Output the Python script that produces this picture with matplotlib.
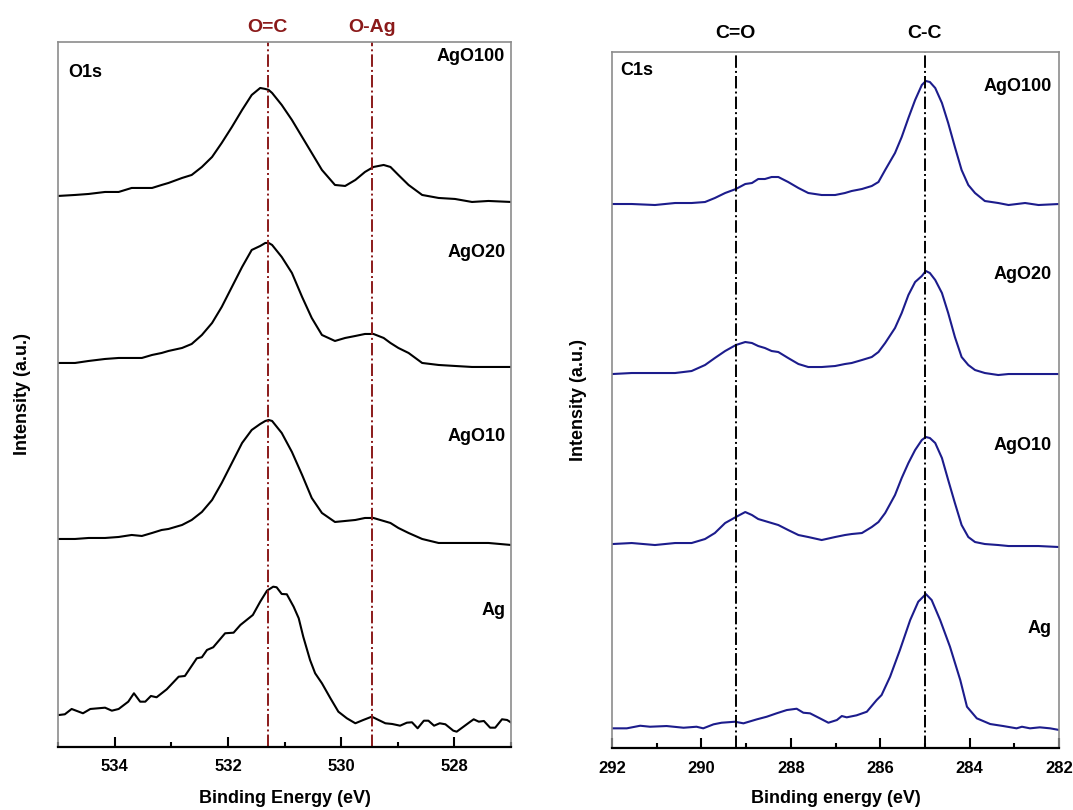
"""XPS O1s / C1s stacked spectra."""

import matplotlib
matplotlib.use("Agg")
import matplotlib.pyplot as plt
import matplotlib.transforms as mtransforms
from matplotlib.ticker import MultipleLocator

plt.rcParams["font.family"] = ["Liberation Sans", "DejaVu Sans"]
plt.rcParams["font.weight"] = "bold"

# ---- O1s panel (binding energy, eV) ----
o1s_energy = [535.0, 534.70, 534.46, 534.17, 533.93, 533.70, 533.52, 533.34, 533.17,
              533.05, 532.81, 532.64, 532.46, 532.28, 532.11, 531.93, 531.75, 531.58,
              531.43, 531.34, 531.28, 531.22, 531.05, 530.87, 530.69, 530.52, 530.34,
              530.11, 529.93, 529.75, 529.58, 529.43, 529.25, 529.13, 528.99, 528.81,
              528.57, 528.28, 527.99, 527.69, 527.40, 527.0]
o1s_ago100 = [554, 555, 556, 558, 558, 562, 562, 562, 565, 567, 572, 575, 583, 593, 607,
              623, 640, 655, 662, 661, 660, 657, 645, 630, 613, 597, 580, 565, 564, 570,
              578, 583, 585, 583, 575, 565, 555, 552, 551, 548, 549, 548]
o1s_ago20 = [387, 387, 389, 391, 392, 392, 392, 395, 397, 399, 402, 406, 415, 427, 443,
             463, 483, 500, 504, 507, 507, 505, 493, 477, 453, 432, 415, 409, 412, 414,
             416, 416, 412, 407, 402, 397, 387, 385, 384, 383, 383, 383]
o1s_ago10 = [211, 211, 212, 212, 213, 215, 214, 217, 220, 221, 225, 230, 238, 250, 267,
             287, 307, 320, 326, 329, 330, 329, 317, 298, 275, 252, 237, 228, 229, 230,
             232, 232, 229, 227, 222, 217, 211, 207, 207, 207, 207, 205]

o1s_ag_energy = [534.98, 534.88, 534.76, 534.56, 534.43, 534.17, 534.05, 533.93, 533.76,
                 533.66, 533.55, 533.46, 533.36, 533.26, 533.08, 532.87, 532.76, 532.55,
                 532.46, 532.37, 532.26, 532.05, 531.90, 531.78, 531.56, 531.43, 531.31,
                 531.20, 531.14, 531.05, 530.96, 530.84, 530.75, 530.67, 530.55, 530.46,
                 530.34, 530.19, 530.05, 529.90, 529.75, 529.61, 529.46, 529.34, 529.22,
                 529.10, 528.96, 528.84, 528.75, 528.65, 528.54, 528.46, 528.36, 528.26,
                 528.16, 528.02, 527.96, 527.84, 527.72, 527.66, 527.57, 527.48, 527.37,
                 527.28, 527.16, 527.07, 526.98]
o1s_ag = [35, 35.7, 41, 36.7, 41, 42.3, 39.3, 41, 48.3, 56.7, 48.3, 48.3, 54, 52.7, 60.7,
          73.3, 74, 91.7, 92.7, 100, 102.7, 116.7, 117.3, 125, 135, 148.3, 159.3, 163.3,
          162.7, 156, 155.7, 143.3, 131.7, 113.3, 90, 76.7, 66.7, 51.7, 38.3, 31.7, 26.7,
          30, 33.3, 30, 26.7, 26, 24.3, 27.3, 27.7, 21.7, 29.3, 29.3, 24.3, 26.7, 25.7,
          19.3, 18.3, 23.3, 28.3, 30.7, 28.3, 29, 22.3, 22.3, 30.7, 30, 26.7]

# ---- C1s panel ----
c1s_energy = [291.99, 291.56, 291.04, 290.59, 290.22, 289.92, 289.70, 289.47, 289.23,
              289.02, 288.87, 288.73, 288.58, 288.43, 288.28, 288.06, 287.83, 287.61,
              287.31, 287.01, 286.79, 286.64, 286.41, 286.19, 286.04, 285.89, 285.67,
              285.52, 285.37, 285.22, 285.07, 284.98, 284.89, 284.77, 284.62, 284.48,
              284.33, 284.18, 284.03, 283.88, 283.66, 283.36, 283.13, 282.76, 282.46, 282.0]
c1s_ago100 = [546, 546, 545, 547, 547, 548, 552, 557, 561, 566, 567, 571, 571, 573, 573,
              568, 562, 557, 555, 555, 557, 559, 561, 564, 568, 580, 597, 613, 632, 650,
              665, 669, 668, 662, 647, 627, 603, 580, 565, 557, 549, 547, 545, 547, 545, 546]
c1s_ago20 = [376, 377, 377, 377, 379, 385, 392, 399, 405, 408, 407, 404, 402, 399, 398,
             392, 386, 383, 383, 384, 386, 387, 390, 393, 398, 407, 422, 437, 455, 468,
             474, 479, 477, 470, 457, 437, 413, 393, 385, 380, 377, 375, 376, 376, 376, 376]
c1s_ago10 = [206, 207, 205, 207, 207, 211, 217, 227, 233, 238, 235, 231, 229, 227, 225,
             220, 215, 213, 210, 213, 215, 216, 217, 223, 228, 237, 255, 272, 287, 300,
             310, 313, 312, 307, 292, 270, 247, 225, 213, 208, 206, 205, 204, 204, 204, 203]

c1s_ag_energy = [291.98, 291.67, 291.37, 291.15, 290.78, 290.40, 290.11, 289.96, 289.73,
                 289.55, 289.25, 289.06, 288.76, 288.54, 288.32, 288.09, 287.87, 287.72,
                 287.57, 287.35, 287.16, 286.97, 286.86, 286.75, 286.53, 286.30, 286.08,
                 285.97, 285.78, 285.56, 285.33, 285.15, 284.98, 284.85, 284.66, 284.44,
                 284.21, 284.06, 283.84, 283.54, 283.25, 282.95, 282.83, 282.65, 282.43,
                 282.20, 281.99]
c1s_ag = [21.7, 21.7, 24.3, 23.3, 24, 22.3, 23.3, 21.7, 25.7, 27.3, 28.3, 26.7, 30.7,
          33.3, 36.7, 40, 41.3, 37.3, 36.7, 31.7, 27.3, 30, 34, 32.7, 34.7, 38.3, 50, 55,
          73.3, 100, 130, 148.3, 156, 150, 130, 103.3, 70, 43.3, 31.7, 26, 24, 21.7, 23.3,
          21.7, 22.7, 21.7, 20]

sample_names = ["AgO100", "AgO20", "AgO10", "Ag"]
o1s_refs = [531.3, 529.46]
o1s_ref_labels = ["O=C", "O-Ag"]
c1s_refs = [289.23, 285.0]
c1s_ref_labels = ["C=O", "C-C"]


def style_axes(ax, xlim, ylim):
    ax.set_xlim(*xlim)
    ax.set_ylim(*ylim)
    ax.set_yticks([])
    ax.xaxis.set_major_locator(MultipleLocator(2))
    ax.xaxis.set_minor_locator(MultipleLocator(1))
    ax.tick_params(axis="x", which="major", direction="in", length=7, width=1.5,
                   labelsize=12, pad=9)
    ax.tick_params(axis="x", which="minor", direction="in", length=3.5, width=1.5)
    for side in ["left", "top", "right"]:
        ax.spines[side].set_color("#8c8c8c")
        ax.spines[side].set_linewidth(1.2)
    ax.spines["bottom"].set_color("black")
    ax.spines["bottom"].set_linewidth(1.6)


fig = plt.figure(figsize=(10.73, 8.10), dpi=100)
ax1 = fig.add_axes([0.0541, 0.0778, 0.4222, 0.8704])
ax2 = fig.add_axes([0.5704, 0.0765, 0.4166, 0.8593])

# O1s
style_axes(ax1, (535, 527), (3, 708))
for y in [o1s_ago100, o1s_ago20, o1s_ago10]:
    ax1.plot(o1s_energy, y, color="black", lw=1.5)
ax1.plot(o1s_ag_energy, o1s_ag, color="black", lw=1.5)
trans1 = mtransforms.blended_transform_factory(ax1.transData, ax1.transAxes)
for xr, lab in zip(o1s_refs, o1s_ref_labels):
    ax1.axvline(xr, color="#8b1a1a", lw=1.4, ls="-.")
    ax1.text(xr, 1.021, lab, transform=trans1, ha="center", va="center",
             color="#8b1a1a", fontsize=14, fontweight="bold", clip_on=False)
ax1.text(0.022, 0.957, "O1s", transform=ax1.transAxes, ha="left", va="center",
         fontsize=13, fontweight="bold")
for name, yf in zip(sample_names, [0.979, 0.702, 0.44, 0.193]):
    ax1.text(0.987, yf, name, transform=ax1.transAxes, ha="right", va="center",
             fontsize=13, fontweight="bold")
ax1.set_xlabel("Binding Energy (eV)", fontsize=13, fontweight="bold")
ax1.set_ylabel("Intensity (a.u.)", fontsize=13, fontweight="bold")
ax1.xaxis.set_label_coords(0.5, -0.061)
ax1.yaxis.set_label_coords(-0.06, 0.5)

# C1s
navy = "#1c1c8c"
style_axes(ax2, (292, 282), (2, 698))
for y in [c1s_ago100, c1s_ago20, c1s_ago10]:
    ax2.plot(c1s_energy, y, color=navy, lw=1.5)
ax2.plot(c1s_ag_energy, c1s_ag, color=navy, lw=1.5)
trans2 = mtransforms.blended_transform_factory(ax2.transData, ax2.transAxes)
for xr, lab in zip(c1s_refs, c1s_ref_labels):
    ax2.axvline(xr, color="black", lw=1.4, ls="-.")
    ax2.text(xr, 1.027, lab, transform=trans2, ha="center", va="center",
             color="black", fontsize=14, fontweight="bold", clip_on=False)
ax2.text(0.018, 0.974, "C1s", transform=ax2.transAxes, ha="left", va="center",
         fontsize=13, fontweight="bold")
for name, yf in zip(sample_names, [0.951, 0.681, 0.434, 0.172]):
    ax2.text(0.984, yf, name, transform=ax2.transAxes, ha="right", va="center",
             fontsize=13, fontweight="bold")
ax2.set_xlabel("Binding energy (eV)", fontsize=13, fontweight="bold")
ax2.set_ylabel("Intensity (a.u.)", fontsize=13, fontweight="bold")
ax2.xaxis.set_label_coords(0.5, -0.060)
ax2.yaxis.set_label_coords(-0.056, 0.5)

fig.savefig("out.png", dpi=100)
plt.close(fig)
